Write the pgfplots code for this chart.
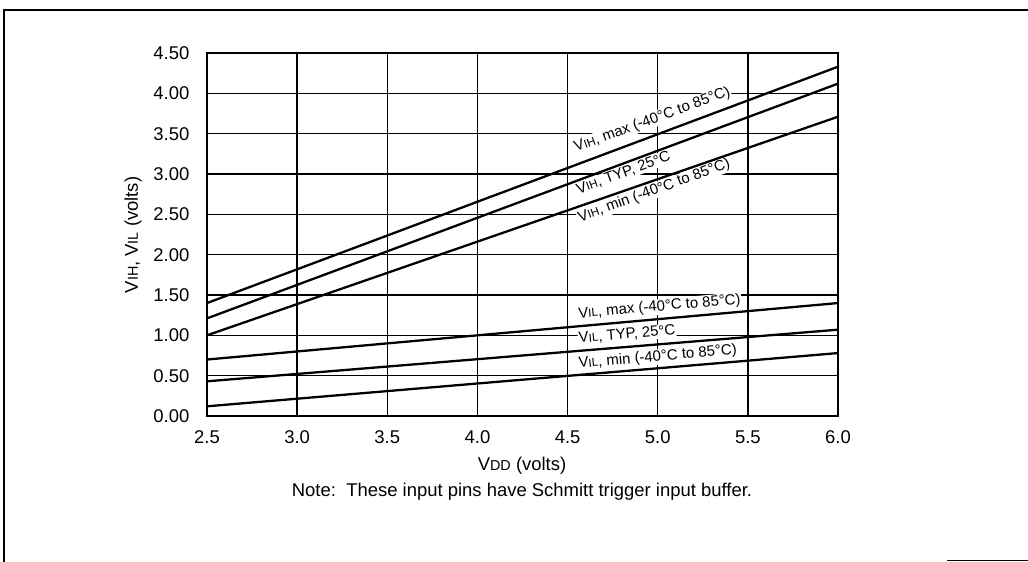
\documentclass[border=0pt]{standalone}
\usepackage{fontspec}
\setmainfont{Liberation Sans}
\usepackage{graphicx}
\usepackage{pgfplots}
\pgfplotsset{compat=1.18}
\newcommand{\sub}[1]{\scalebox{0.78}{#1}}
\begin{document}
\begin{tikzpicture}
\useasboundingbox (0,0) rectangle (20.56,11.24);
% outer frame fragments
\draw[line width=0.8pt] (0.08,0) -- (0.08,11.04) -- (20.56,11.04);
\draw[line width=0.8pt] (18.94,0.03) -- (20.56,0.03);
\begin{axis}[
  at={(4.14cm,2.92cm)}, anchor=south west,
  scale only axis, width=12.62cm, height=7.26cm,
  xmin=2.5, xmax=6.0, ymin=0, ymax=4.5,
  xtick={2.5,3.0,...,6.0}, ytick={0,0.5,...,4.5},
  grid=major, major grid style={black, line width=0.8pt},
  axis line style={black, line width=0.9pt},
  major tick length=0pt,
  /pgf/number format/assume math mode=true,
  xticklabel={\pgfmathprintnumber[fixed,fixed zerofill,precision=1]{\tick}},
  yticklabel={\pgfmathprintnumber[fixed,fixed zerofill,precision=2]{\tick}},
  tick label style={font=\fontsize{10.5}{12}\selectfont},
  xticklabel style={yshift=-5pt},
  yticklabel style={xshift=-6.5pt},
]
\begin{scope}[every node/.style={font=\fontsize{8.5}{10}\selectfont, fill=white, inner sep=0.5pt}]
\node[rotate=20] at (axis cs:4.97,3.67) {V\sub{IH}, max (-40°C to 85°C)};
\node[rotate=20] at (axis cs:4.81,3.01) {V\sub{IH}, TYP, 25°C};
\node[rotate=20] at (axis cs:4.98,2.79) {V\sub{IH}, min (-40°C to 85°C)};
\node[rotate=5] at (axis cs:5.01,1.35) {V\sub{IL}, max (-40°C to 85°C)};
\node[rotate=5] at (axis cs:4.83,1.01) {V\sub{IL}, TYP, 25°C};
\node[rotate=5] at (axis cs:5.00,0.73) {V\sub{IL}, min (-40°C to 85°C)};
\end{scope}
\addplot[black, line width=1.3pt] coordinates {(2.5,1.40) (6.0,4.33)};
\addplot[black, line width=1.3pt] coordinates {(2.5,1.21) (6.0,4.12)};
\addplot[black, line width=1.3pt] coordinates {(2.5,1.00) (6.0,3.71)};
\addplot[black, line width=1.3pt] coordinates {(2.5,0.70) (6.0,1.40)};
\addplot[black, line width=1.3pt] coordinates {(2.5,0.43) (6.0,1.07)};
\addplot[black, line width=1.3pt] coordinates {(2.5,0.12) (6.0,0.78)};
\end{axis}
\node[rotate=90, font=\fontsize{10.5}{12}\selectfont] at (2.66,6.54) {V\sub{IH}, V\sub{IL} (volts)};
\node[font=\fontsize{10.5}{12}\selectfont] at (10.44,1.92) {V\sub{DD} (volts)};
\node[font=\fontsize{10.5}{12}\selectfont] at (10.44,1.40) {Note:\ \ These input pins have Schmitt trigger input buffer.};
\end{tikzpicture}
\end{document}
